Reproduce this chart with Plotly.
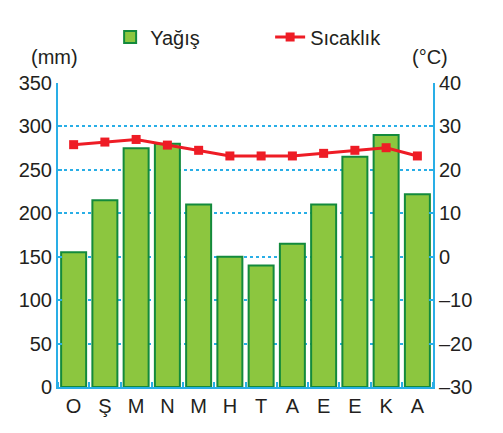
import plotly.graph_objects as go

# aylar (Ocak -> Aralik)
months = ["O", "Ş", "M", "N", "M", "H", "T", "A", "E", "E", "K", "A"]
rain_mm = [155, 215, 275, 280, 210, 150, 140, 165, 210, 265, 290, 222]
temp_c = [25.8, 26.4, 27.0, 25.7, 24.5, 23.2, 23.2, 23.2, 23.8, 24.5, 25.1, 23.2]

mm_ticks = [0, 50, 100, 150, 200, 250, 300, 350]
c_ticks = [-30, -20, -10, 0, 10, 20, 30, 40]
c_labels = ["–30", "–20", "–10", "0", "10", "20", "30", "40"]

blue = "#29aee6"
xs = list(range(len(months)))

fig = go.Figure()
fig.add_trace(go.Bar(
    x=xs, y=rain_mm, name="Yağış",
    marker=dict(color="#8cc63f", line=dict(color="#138a3c", width=2)),
    width=0.8,
))
fig.add_trace(go.Scatter(
    x=xs, y=temp_c, name="Sıcaklık", yaxis="y2",
    mode="lines+markers",
    line=dict(color="#ee1c25", width=3),
    marker=dict(symbol="square", size=9, color="#ee1c25"),
))

# page body has an 8px margin, so the figure is a bit smaller than the window
fig.update_layout(
    width=495, height=425,
    margin=dict(l=50, r=70, t=75, b=46, autoexpand=False),
    paper_bgcolor="white", plot_bgcolor="white",
    font=dict(family="Liberation Sans, Arial, sans-serif", size=20, color="#231f20"),
    showlegend=True,
    legend=dict(orientation="h", x=0.139, xanchor="left", y=1.151, yanchor="middle",
                font=dict(size=20), itemwidth=30, entrywidth=115,
                traceorder="normal"),
    xaxis=dict(
        range=[-0.5, 11.5], tickvals=xs, ticktext=months, ticks="",
        showline=True, linecolor=blue, linewidth=2, showgrid=False,
        zeroline=False, fixedrange=True,
        minor=dict(tick0=-0.5, dtick=1, ticks="inside", ticklen=5,
                   tickcolor=blue, tickwidth=2, showgrid=False),
    ),
    yaxis=dict(
        range=[0, 350], tickvals=mm_ticks, ticks="inside", ticklen=4,
        tickcolor=blue, tickwidth=2,
        showline=True, linecolor=blue, linewidth=2,
        showgrid=True, gridcolor=blue, griddash="dot", gridwidth=1.5,
        zeroline=False,
    ),
    yaxis2=dict(
        range=[-30, 40], tickvals=c_ticks, ticktext=c_labels, overlaying="y",
        side="right", ticks="inside", ticklen=4, tickcolor=blue, tickwidth=2,
        showline=True, linecolor=blue, linewidth=2, showgrid=False,
        zeroline=False,
    ),
    annotations=[
        dict(text="(mm)", x=0.059, y=1.086, xref="paper", yref="paper",
             xanchor="right", yanchor="middle", showarrow=False, font=dict(size=20)),
        dict(text="(°C)", x=0.939, y=1.086, xref="paper", yref="paper",
             xanchor="left", yanchor="middle", showarrow=False, font=dict(size=20)),
    ],
)

fig.write_html("out.html")
